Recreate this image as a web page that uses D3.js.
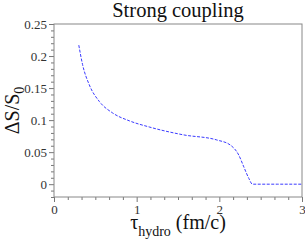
<!DOCTYPE html>
<html>
<head>
<meta charset="utf-8">
<script src="https://cdn.jsdelivr.net/npm/d3@7"></script>
<style>
  body { margin: 0; background: #ffffff; }
  svg { display: block; }
  .axis path { stroke: none; }
  .axis line { stroke: #777777; }
  .axis text { fill: #333333; font-size: 13px; }
</style>
</head>
<body>
<svg id="svg1" width="305" height="240"></svg>
<script>
// chart data
const tau = [0.30, 0.345, 0.427, 0.549, 0.711, 0.915, 1.16, 1.565, 1.97, 2.134, 2.235, 2.296, 2.357, 2.40, 2.7, 3.0];
const dS = [0.217, 0.187, 0.155, 0.129, 0.111, 0.0987, 0.089, 0.077, 0.069, 0.061, 0.0455, 0.027, 0.009, 0, 0, 0];
const xTicks = [0, 1, 2, 3];
const yTicks = [0, 0.05, 0.1, 0.15, 0.2, 0.25];

const serif = "'Liberation Serif', 'DejaVu Serif', serif";
const plotLeft = 54, plotRight = 302, plotTop = 24, plotBottom = 197;

const svg = d3.select("#svg1");

const xScale = d3.scaleLinear().domain([0, 3]).range([plotLeft, plotRight]);
const yScale = d3.scaleLinear().domain([-0.02, 0.25]).range([plotBottom, plotTop]);

// minor ticks
const xMinor = d3.range(0, 18).filter(i => i % 6 !== 0).map(i => i / 6);
const yMinor = d3.range(-2, 25).filter(i => i % 5 !== 0).map(i => i / 100);

svg.append("g")
    .attr("class", "axis")
    .attr("transform", "translate(0," + plotBottom + ")")
    .call(d3.axisBottom(xScale).tickValues(xMinor).tickSize(3).tickFormat(""));

svg.append("g")
    .attr("class", "axis")
    .attr("transform", "translate(0," + plotBottom + ")")
    .call(d3.axisBottom(xScale).tickValues(xTicks).tickSize(5).tickPadding(3).tickFormat(d3.format("d")));

svg.append("g")
    .attr("class", "axis")
    .attr("transform", "translate(" + plotLeft + ",0)")
    .call(d3.axisLeft(yScale).tickValues(yMinor).tickSize(3).tickFormat(""));

svg.append("g")
    .attr("class", "axis")
    .attr("transform", "translate(" + plotLeft + ",0)")
    .call(d3.axisLeft(yScale).tickValues(yTicks).tickSize(5).tickPadding(2).tickFormat(d => String(d)));

svg.selectAll(".axis").attr("font-family", serif);

// frame
svg.append("rect")
    .attr("x", plotLeft)
    .attr("y", plotTop)
    .attr("width", plotRight - plotLeft)
    .attr("height", plotBottom - plotTop)
    .attr("fill", "none")
    .attr("stroke", "#888888")
    .attr("stroke-width", 1);

const line = d3.line()
    .x((d, i) => xScale(tau[i]))
    .y(d => yScale(d))
    .curve(d3.curveMonotoneX);

svg.append("path")
    .datum(dS)
    .attr("d", line)
    .attr("fill", "none")
    .attr("stroke", "#3a3aff")
    .attr("stroke-width", 1)
    .attr("stroke-dasharray", "3,1.5");

// title
svg.append("text")
    .attr("x", (plotLeft + plotRight) / 2)
    .attr("y", 17)
    .attr("text-anchor", "middle")
    .attr("font-family", serif)
    .attr("font-size", "20.5px")
    .attr("fill", "#111111")
    .text("Strong coupling");

// x label
const xl = svg.append("text")
    .attr("x", (plotLeft + plotRight) / 2)
    .attr("y", 229)
    .attr("text-anchor", "middle")
    .attr("font-family", serif)
    .attr("font-size", "20px")
    .attr("fill", "#111111");
xl.append("tspan").text("τ");
xl.append("tspan").attr("font-size", "14px").attr("dy", 7).text("hydro");
xl.append("tspan").attr("dy", -7).text(" (fm/c)");

// y label
const yl = svg.append("text")
    .attr("transform", "translate(19," + ((plotTop + plotBottom) / 2) + ") rotate(-90)")
    .attr("text-anchor", "middle")
    .attr("font-family", serif)
    .attr("font-size", "20px")
    .attr("fill", "#111111");
yl.append("tspan").text("ΔS/S");
yl.append("tspan").attr("font-size", "14px").attr("dy", 5).text("0");
</script>
</body>
</html>
